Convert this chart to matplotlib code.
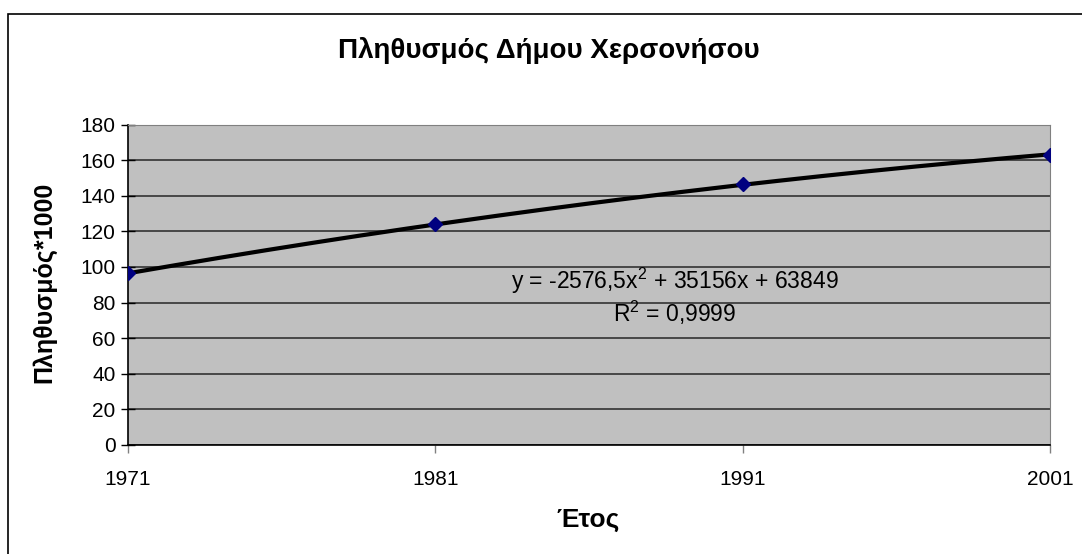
import numpy as np
import matplotlib
matplotlib.use("Agg")
import matplotlib.pyplot as plt
from matplotlib.patches import Rectangle

# δεδομένα
years = ["1971", "1981", "1991", "2001"]
population = [96.5, 124.0, 146.5, 163.0]   # πληθυσμός / 1000
# συντελεστές πολυωνυμικής γραμμής τάσης (Excel, x = 1..4)
trend_coef = [-2576.5, 35156, 63849]

plt.rcParams['font.family'] = ['Liberation Sans', 'DejaVu Sans']
plt.rcParams['mathtext.fontset'] = 'custom'
plt.rcParams['mathtext.rm'] = 'Liberation Sans'

fig = plt.figure(figsize=(10.82, 5.54), dpi=100)
fig.patch.set_facecolor("white")

# πλαίσιο γραφήματος
fig.patches.append(Rectangle((8 / 1082, -0.1), 1.2, 0.1 + (554 - 13.5) / 554,
                             transform=fig.transFigure, fill=False,
                             edgecolor="black", linewidth=1.2))

ax = fig.add_axes([128 / 1082, (554 - 445) / 554, 922 / 1082, 320.5 / 554])
ax.set_facecolor("#C0C0C0")

x = np.arange(1, len(years) + 1)
xs = np.linspace(1, len(years), 200)
trend = np.polyval(trend_coef, xs) / 1000
ax.plot(xs, trend, color="black", linewidth=3, zorder=3)
ax.plot(x, population, linestyle="none", marker="D", markersize=7,
        color="#000080", zorder=4)

ax.set_xlim(1, len(years))
ax.set_ylim(0, 180)
ax.set_yticks(np.arange(0, 181, 20))
ax.set_xticks(x)
ax.set_xticklabels(years)
ax.grid(axis="y", color="#333333", linewidth=1.2)
ax.set_axisbelow(True)

for s in ["top", "right"]:
    ax.spines[s].set_color("#808080")
for s in ["left", "bottom"]:
    ax.spines[s].set_color("black")
    ax.spines[s].set_linewidth(1.2)

ax.tick_params(axis="y", direction="inout", length=10, width=1, labelsize=15, pad=4)
ax.tick_params(axis="x", direction="out", length=6, width=1, color="#808080",
               labelsize=15, pad=12)

eq_x = (675 - 128) / 922
ax.text(eq_x, (445 - 281) / 320.5, "y = -2576,5x$^2$ + 35156x + 63849",
        transform=ax.transAxes, ha="center", va="center", fontsize=16.5)
ax.text(eq_x, (445 - 313) / 320.5, "R$^2$ = 0,9999", transform=ax.transAxes,
        ha="center", va="center", fontsize=16.5)

ax.set_ylabel("Πληθυσμός*1000", fontsize=18, fontweight="bold")
ax.yaxis.set_label_coords((44 - 128) / 922, (445 - 282) / 320.5)
ax.yaxis.label.set_va("center")
ax.set_xlabel("Έτος", fontsize=19, fontweight="bold")
ax.xaxis.set_label_coords((588 - 128) / 922, (445 - 520) / 320.5)
ax.xaxis.label.set_va("center")

fig.text(549 / 1082, (554 - 50) / 554, "Πληθυσμός Δήμου Χερσονήσου", ha="center",
         va="center", fontsize=20, fontweight="bold")

fig.savefig("out.png", dpi=100)
